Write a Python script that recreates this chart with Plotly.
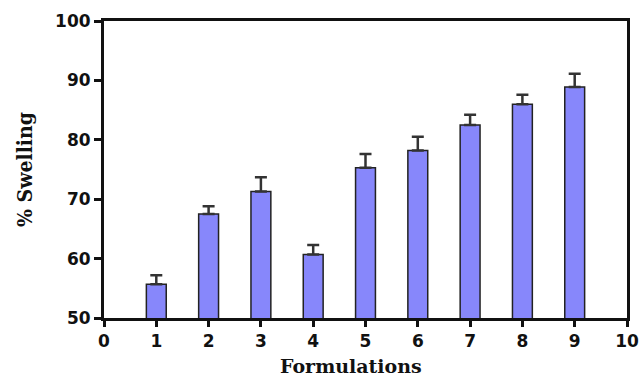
import plotly.graph_objects as go

formulations = [1, 2, 3, 4, 5, 6, 7, 8, 9]
swelling = [55.7, 67.5, 71.3, 60.7, 75.3, 78.2, 82.5, 86.0, 88.9]
sd = [1.5, 1.3, 2.4, 1.6, 2.3, 2.3, 1.7, 1.6, 2.2]
x_ticks = list(range(0, 11))
y_ticks = [50, 60, 70, 80, 90, 100]

fig = go.Figure(go.Bar(
    x=formulations, y=swelling, width=0.38,
    marker=dict(color="#8787fb", line=dict(color="#222222", width=1.5)),
    error_y=dict(type="data", array=sd, arrayminus=[0]*len(sd), symmetric=False,
                 color="#333333", thickness=2.5, width=6),
))

tickfont = dict(family="DejaVu Sans", size=17, color="#111")
fig.update_layout(
    width=641, height=376,
    margin=dict(l=104, r=14, t=21, b=58),
    plot_bgcolor="white", paper_bgcolor="white",
    showlegend=False,
    xaxis=dict(range=[0, 10], tickvals=x_ticks, ticktext=[f"<b>{v}</b>" for v in x_ticks],
               ticks="outside", ticklen=6, tickwidth=3, automargin=False,
               tickcolor="#111", showline=True, linewidth=3, linecolor="#111", mirror=True,
               showgrid=False, zeroline=False, tickfont=tickfont),
    yaxis=dict(range=[50, 100], tickvals=y_ticks, ticktext=[f"<b>{v}</b>" for v in y_ticks],
               ticks="outside", ticklen=7, tickwidth=3, automargin=False,
               tickcolor="#111", showline=True, linewidth=3, linecolor="#111", mirror=True,
               showgrid=False, zeroline=False, tickfont=tickfont,
               title=dict(text="<b>% Swelling</b>", standoff=17,
                          font=dict(family="DejaVu Serif Condensed", size=21, color="#111"))),
    annotations=[dict(text="<b>Formulations</b>", xref="paper", yref="paper",
                      x=0.472, y=-0.163, xanchor="center", yanchor="middle", showarrow=False,
                      font=dict(family="DejaVu Serif", size=19, color="#111"))],
)

fig.write_html("out.html")
